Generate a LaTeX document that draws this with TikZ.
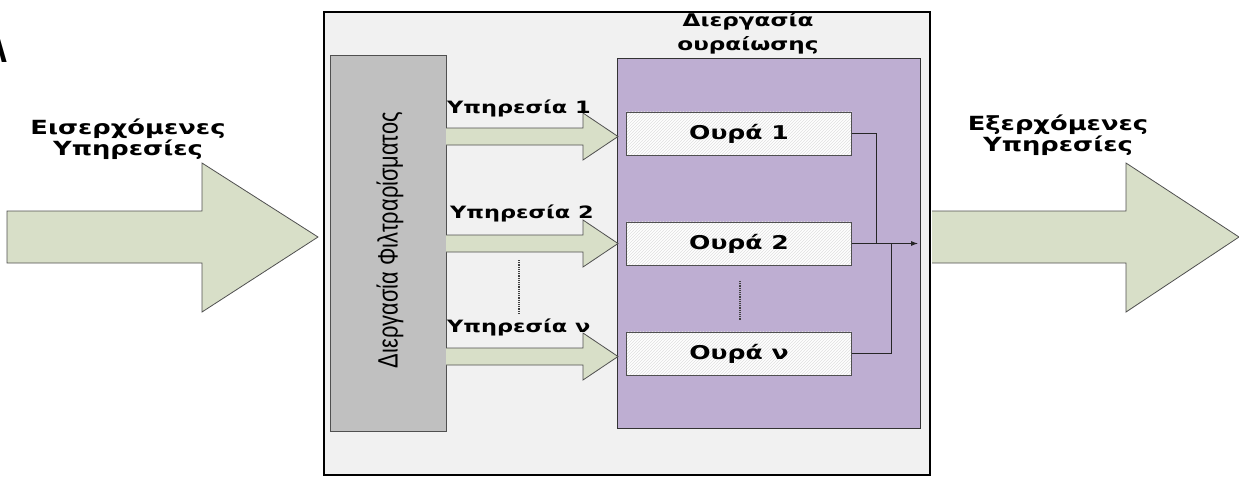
\documentclass[tikz,border=0pt]{standalone}
\usepackage{fontspec}
\setmainfont{DejaVu Sans}
\newfontfamily\widefont[FakeStretch=1.32]{DejaVu Sans}
\newfontfamily\narrowfont[FakeStretch=0.78]{Liberation Sans}
\usetikzlibrary{patterns,calc,arrows.meta}
\definecolor{arrowfill}{RGB}{216,223,200}
\definecolor{outerfill}{RGB}{241,241,241}
\definecolor{filterfill}{RGB}{192,192,192}
\definecolor{queuefill}{RGB}{190,174,210}
\definecolor{edgegray}{RGB}{80,80,80}
\tikzset{
  bigarrow/.style={draw=edgegray, line width=0.8pt, fill=arrowfill},
  lbl/.style={font=\widefont\bfseries\fontsize{17}{18}\selectfont, align=center, inner sep=0pt},
  biglbl/.style={font=\widefont\bfseries\fontsize{19.5}{19}\selectfont, align=center, inner sep=0pt},
  qbox/.style={draw=edgegray, line width=0.8pt, fill=white, minimum width=225pt, minimum height=43pt, inner sep=0pt, font=\widefont\bfseries\fontsize{19}{19}\selectfont},
  conn/.style={line width=0.8pt, draw=black!85},
}
\begin{document}
\begin{tikzpicture}[x=1pt,y=-1pt]
\useasboundingbox (0,0) rectangle (1239,483);
\fill[white] (0,0) rectangle (1239,483);
% cropped glyph at top-left
\begin{scope}
\clip (0,0) rectangle (12,80);
\node[anchor=base east, inner sep=0pt, font=\narrowfont\bfseries\fontsize{42}{42}\selectfont] (crop) at (8,62) {Λ};
\end{scope}
% outer box
\node[draw=black, line width=2.6pt, fill=outerfill, minimum width=606pt, minimum height=463pt, inner sep=0pt] (outer) at (627,243.5) {};
% filter box
\node[draw=edgegray, line width=1pt, fill=filterfill, minimum width=116pt, minimum height=376pt, inner sep=0pt] (filter) at (388,243) {};
\node[rotate=90, inner sep=0pt, font=\narrowfont\fontsize{28}{28}\selectfont] (filtertxt) at (390,240) {Διεργασία Φιλτραρίσματος};
% queue process box
\node[draw=black!80, line width=1pt, fill=queuefill, minimum width=303pt, minimum height=370pt, inner sep=0pt] (queue) at (768.5,243) {};
\node[biglbl, font=\widefont\bfseries\fontsize{17.5}{24}\selectfont] (queuetxt) at (748,33) {Διεργασία\\ουραίωσης};
% queues
\node[qbox] (q1) at (739,133.5) {};
\fill[pattern=north east lines, pattern color=black!12] (q1.south west) rectangle (q1.north east);
\node[qbox, fill=none] (q1t) at (q1) {Ουρά 1};
\node[qbox] (q2) at (739,243.5) {};
\fill[pattern=north east lines, pattern color=black!12] (q2.south west) rectangle (q2.north east);
\node[qbox, fill=none] (q2t) at (q2) {Ουρά 2};
\node[qbox] (qv) at (739,353.5) {};
\fill[pattern=north east lines, pattern color=black!12] (qv.south west) rectangle (qv.north east);
\node[qbox, fill=none] (qvt) at (qv) {Ουρά ν};
\draw[densely dotted, line width=1.2pt, black!75] (740,281) -- (740,320);
% queue output connectors
\coordinate (outtip) at (918,243.5);
\coordinate (j1) at (876,243.5);
\coordinate (j2) at (891,243.5);
\draw[conn] (q1.east) -| (j1);
\draw[conn] (qv.east) -| (j2);
\draw[conn, -{Latex[length=7pt,width=5pt]}] (q2.east) -- (outtip);
% service arrows
\foreach \n/\y in {a1/136.5, a2/243.5, av/356.5}{
  \draw[bigarrow] (446,\y-8.5) -- (583,\y-8.5) -- (583,\y-23.5) -- (618,\y) -- (583,\y+23.5) -- (583,\y+8.5) -- (446,\y+8.5);
}
\node[lbl, anchor=base west] (s1) at (447,113) {Υπηρεσία 1};
\node[lbl, anchor=base west] (s2) at (450,218) {Υπηρεσία 2};
\node[lbl, anchor=base west] (sv) at (447,332) {Υπηρεσία ν};
\draw[densely dotted, line width=1.2pt, black!75] (519,260) -- (519,313);
% incoming big arrow
\draw[bigarrow] (7,211) -- (202,211) -- (202,163) -- (318,237) -- (202,312) -- (202,263) -- (7,263) -- cycle;
\node[biglbl] (intxt) at (128,139) {Εισερχόμενες\\Υπηρεσίες};
% outgoing big arrow
\draw[bigarrow] (932,211) -- (1126,211) -- (1126,163) -- (1239,237) -- (1126,312) -- (1126,263) -- (932,263);
\node[biglbl] (outtxt) at (1058,135) {Εξερχόμενες\\Υπηρεσίες};
\end{tikzpicture}
\end{document}
